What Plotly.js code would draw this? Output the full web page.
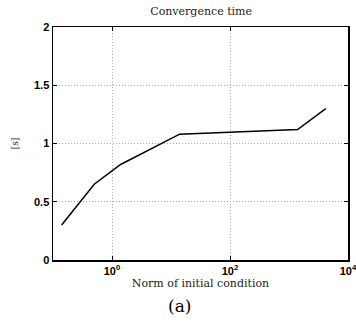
<!DOCTYPE html>
<html>
<head>
<meta charset="utf-8">
<script src="https://cdn.plot.ly/plotly-3.0.1.min.js"></script>
<style>html,body{margin:0;padding:0;background:#fff;}#chart{width:356px;height:322px;}</style>
</head>
<body>
<div id="chart"></div>
<script>
const normValues = [0.14, 0.5, 1.4, 14, 1400, 4200];
const convTime = [0.30, 0.65, 0.82, 1.08, 1.12, 1.30];
const xTickVals = [1, 100, 10000];
const xTickText = ['<b>10<sup>0</sup></b>', '<b>10<sup>2</sup></b>', '<b>10<sup>4</sup></b>'];
const yTickVals = [0, 0.5, 1, 1.5, 2];
const yTickText = ['<b>0</b>', '<b>0.5</b>', '<b>1</b>', '<b>1.5</b>', '<b>2</b>'];

const trace = {
  x: normValues, y: convTime, type: 'scatter', mode: 'lines',
  line: {color: '#000', width: 1.5}, hoverinfo: 'skip', showlegend: false
};

const serif = 'DejaVu Serif, Liberation Serif, serif';
const layout = {
  width: 356, height: 322,
  margin: {l: 53, r: 8, t: 27, b: 62},
  paper_bgcolor: '#fff', plot_bgcolor: '#fff',
  title: {text: 'Convergence time', font: {family: serif, size: 11, color: '#222'}, x: 0.565, xanchor: 'center', y: 0.965, yanchor: 'middle'},
  xaxis: {
    type: 'log', range: [-1, 4], tickvals: xTickVals, ticktext: xTickText,
    ticklabeloverflow: 'allow',
    showline: true, linecolor: '#000', linewidth: 1.5, mirror: 'ticks',
    ticks: 'inside', ticklen: 4, tickcolor: '#000',
    showgrid: true, gridcolor: '#aaa', griddash: '1px,2px', gridwidth: 1,
    zeroline: false,
    tickfont: {family: 'Liberation Sans, Arial, sans-serif', size: 11, color: '#000'},
    title: {text: 'Norm of initial condition', font: {family: serif, size: 11, color: '#222'}, standoff: 2}
  },
  yaxis: {
    range: [0, 2], tickvals: yTickVals, ticktext: yTickText,
    showline: true, linecolor: '#000', linewidth: 1.5, mirror: 'ticks',
    ticks: 'inside', ticklen: 4, tickcolor: '#000',
    showgrid: true, gridcolor: '#aaa', griddash: '1px,2px', gridwidth: 1,
    zeroline: false,
    tickfont: {family: 'Liberation Sans, Arial, sans-serif', size: 11, color: '#000'},
    title: {text: '[s]', font: {family: serif, size: 9, color: '#222'}, standoff: 14}
  },
  annotations: [{
    text: '(a)', xref: 'paper', yref: 'paper', x: 0.43, y: -0.145, xanchor: 'center', yanchor: 'top',
    showarrow: false, font: {family: serif, size: 17, color: '#000'}
  }]
};
Plotly.newPlot('chart', [trace], layout, {staticPlot: true, displayModeBar: false});
</script>
</body>
</html>
